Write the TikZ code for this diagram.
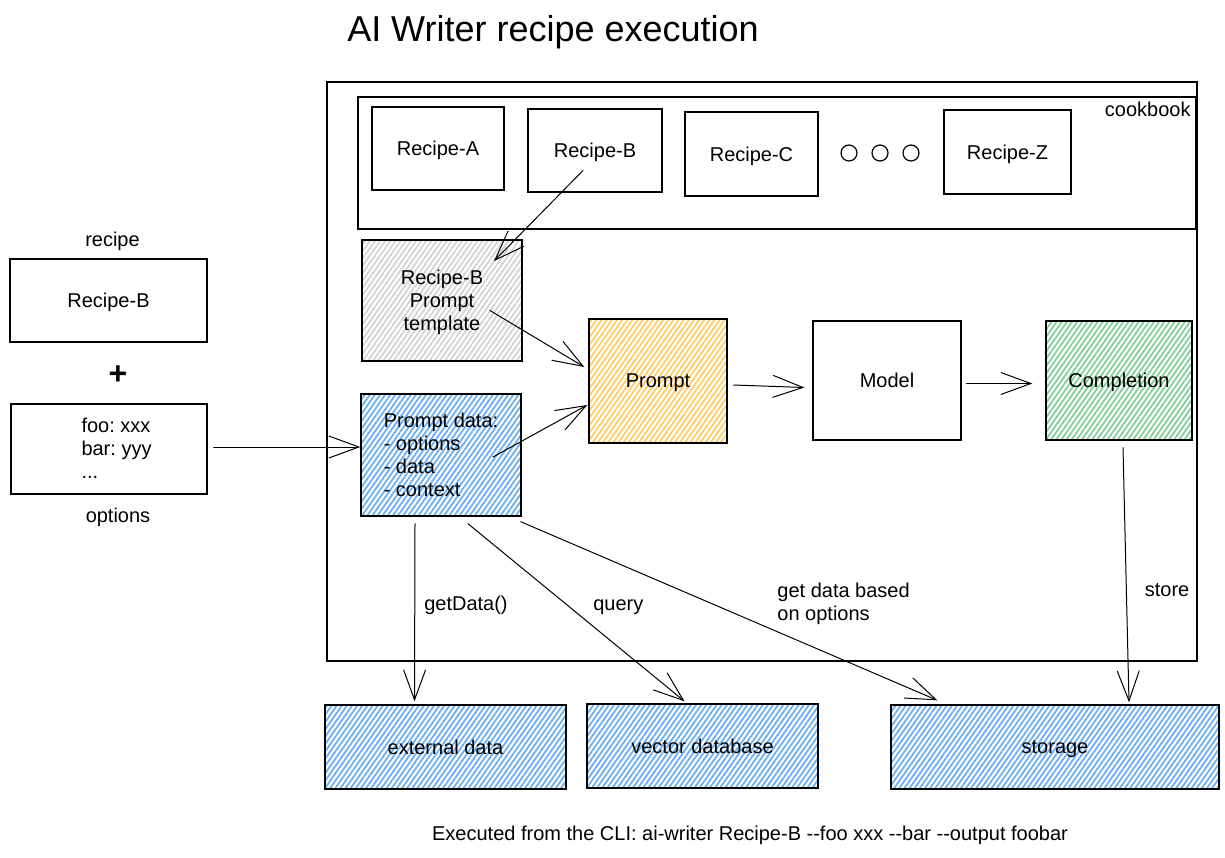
\documentclass[tikz,border=0pt]{standalone}
\usepackage{fontspec}
\setmainfont{Liberation Sans}[Ligatures=TeXOff]
\usetikzlibrary{arrows.meta,positioning,patterns.meta}

\definecolor{hatchgray}{RGB}{212,212,212}
\definecolor{hatchorange}{RGB}{255,204,102}
\definecolor{hatchgreen}{RGB}{130,208,150}
\definecolor{hatchblue}{RGB}{108,174,240}

\begin{document}
\frenchspacing
\begin{tikzpicture}[x=1pt, y=-1pt, font=\fontsize{20}{23}\selectfont]
    % Styles
    \tikzstyle{box} = [rectangle, draw, line width=1.4pt, align=center, inner sep=0pt, text depth=0pt]
    \tikzstyle{hatched} = [pattern={Lines[angle=55, distance=4.2pt, line width=1.8pt]}]
    \tikzstyle{arrow} = [line width=1pt, line cap=round, -{Straight Barb[length=30pt, width=22pt, line width=1pt]}]
    \tikzstyle{gapdot} = [circle, draw, line width=1.2pt, minimum size=16pt, inner sep=0pt]
    \tikzstyle{lbl} = [inner sep=0pt]

    \useasboundingbox (0,0) rectangle (1225,857);

    % Title
    \node (title) at (553,32) {\fontsize{36}{40}\selectfont AI Writer recipe execution};

    % Containers
    \node [box, minimum width=870pt, minimum height=579pt] (outer) at (762,371.5) {};
    \node [box, minimum width=838pt, minimum height=132pt] (cook) at (777,163) {};
    \node [lbl, anchor=north east] (cooklbl) at ([xshift=-6pt, yshift=-6pt]cook.north east) {cookbook};

    % Cookbook recipes
    \node [box, minimum width=132pt, minimum height=83pt] (rcpa) at (438,148.5) {Recipe-A};
    \node [box, minimum width=134pt, minimum height=83pt] (rcpb) at (595,150.5) {Recipe-B};
    \node [box, minimum width=133pt, minimum height=84pt] (rcpc) at (751.5,154) {Recipe-C};
    \foreach \x/\n in {849/1, 880/2, 911/3}
        \node [gapdot] (dot\n) at (\x,153) {};
    \node [box, minimum width=127pt, minimum height=84pt] (rcpz) at (1007.5,152) {Recipe-Z};

    % Input side
    \node [box, minimum width=197pt, minimum height=83pt] (inrcp) at (108.5,300.5) {Recipe-B};
    \node [lbl, above=7pt of inrcp, xshift=4pt] (inrcplbl) {recipe};
    \node [lbl] (plus) at (118,375) {\fontsize{32}{32}\selectfont\bfseries +};
    \node [box, minimum width=196pt, minimum height=90pt] (opts) at (109,449) {};
    \node [lbl, align=left, anchor=west] (optstxt) at ([xshift=71pt, yshift=1pt]opts.west) {foo: xxx\\bar: yyy\\...};
    \node [lbl, below=13pt of opts, xshift=9pt] (optslbl) {options};

    % Prompt building
    \node [box, hatched, pattern color=hatchgray, minimum width=160pt, minimum height=121pt] (tmpl) at (442,300.5) {Recipe-B\\Prompt\\template};
    \node [box, hatched, pattern color=hatchblue, minimum width=160pt, minimum height=122pt, align=left] (pdata) at (441,455) {Prompt data:\\- options\\- data\\- context};
    \node [box, hatched, pattern color=hatchorange, minimum width=138pt, minimum height=124pt] (prompt) at (658,381) {Prompt};
    \node [box, minimum width=148pt, minimum height=119pt] (model) at (887,380.5) {Model};
    \node [box, hatched, pattern color=hatchgreen, minimum width=146pt, minimum height=119pt] (compl) at (1119,380.5) {Completion};

    % Data sources
    \node [box, hatched, pattern color=hatchblue, minimum width=241pt, minimum height=84pt] (extdata) at (445.5,747) {external data};
    \node [box, hatched, pattern color=hatchblue, minimum width=231pt, minimum height=84pt] (vecdb) at (702.5,746) {vector database};
    \node [box, hatched, pattern color=hatchblue, minimum width=328pt, minimum height=84pt] (storage) at (1055,747) {storage};

    % Footer
    \node (cli) at (750,835) {Executed from the CLI: ai-writer Recipe-B --foo xxx --bar --output foobar};

    % Connectors
    \draw[arrow] ([xshift=-12pt, yshift=-20pt]rcpb.center) -- ([xshift=-29pt, yshift=-22pt]tmpl.north east);
    \draw[arrow] ([xshift=48pt, yshift=-10pt]tmpl.center) -- ([xshift=-4pt, yshift=14pt]prompt.west);
    \draw[arrow] ([xshift=52pt, yshift=-2pt]pdata.center) -- ([xshift=-1pt, yshift=-24pt]prompt.west);
    \draw[arrow] ([xshift=6pt, yshift=2pt]opts.east) -- ([yshift=8pt]pdata.west);
    \draw[arrow] ([xshift=6pt, yshift=-4pt]prompt.east) -- ([xshift=-8pt, yshift=-7pt]model.west);
    \draw[arrow] ([xshift=5pt, yshift=-3pt]model.east) -- ([xshift=-13pt, yshift=-3pt]compl.west);
    \draw[arrow] ([xshift=4pt, yshift=-7pt]compl.south) -- node[lbl, pos=0.56, anchor=west, xshift=18pt] {store} ([xshift=74pt, yshift=2pt]storage.north);
    \draw[arrow] ([xshift=-26pt, yshift=-7pt]pdata.south) -- node[lbl, pos=0.46, anchor=west, xshift=9pt] {getData()} ([xshift=-31pt, yshift=3pt]extdata.north);
    \draw[arrow] ([xshift=27pt, yshift=-7pt]pdata.south) -- node[lbl, pos=0.47, anchor=west, xshift=23pt] {query} ([xshift=-18pt, yshift=2pt]vecdb.north);
    \draw[arrow] ([xshift=-1pt, yshift=-5pt]pdata.south east) -- node[lbl, pos=0.615, anchor=south west, yshift=6pt, align=left] {get data based\\on options} ([xshift=47pt, yshift=4pt]storage.north west);
\end{tikzpicture}
\end{document}
